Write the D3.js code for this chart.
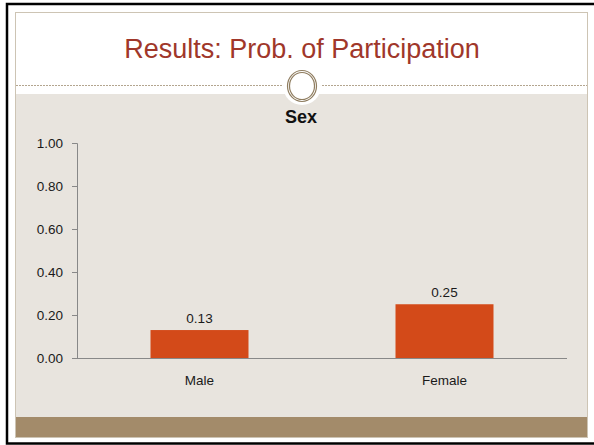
<!DOCTYPE html>
<html>
<head>
<meta charset="utf-8">
<script src="https://cdn.jsdelivr.net/npm/d3@7"></script>
<style>
  html, body { margin: 0; padding: 0; background: #fff; }
  svg { display: block; font-family: Arial, "Liberation Sans", sans-serif; }
</style>
</head>
<body>
<svg id="slide" width="594" height="445"></svg>
<script>
    // Chart data
    const categories = ["Male", "Female"];
    const values = [0.13, 0.25];
    const yTicks = [0, 0.2, 0.4, 0.6, 0.8, 1.0];
    const title = "Results: Prob. of Participation";
    const chartTitle = "Sex";

    const svg = d3.select("#slide");

    // Slide frame and decorations
    svg.append("rect")
        .attr("x", 7).attr("y", 4)
        .attr("width", 600).attr("height", 439.5)
        .attr("fill", "#fff")
        .attr("stroke", "#000")
        .attr("stroke-width", 2.5);

    svg.append("rect")
        .attr("x", 15.5).attr("y", 12.5)
        .attr("width", 572).attr("height", 425)
        .attr("fill", "#fff")
        .attr("stroke", "#cdc4b4");

    svg.append("rect")
        .attr("x", 16).attr("y", 94)
        .attr("width", 571).attr("height", 323)
        .attr("fill", "#e8e4de");

    svg.append("rect")
        .attr("x", 16).attr("y", 417)
        .attr("width", 571).attr("height", 20)
        .attr("fill", "#a38b6a");

    svg.append("line")
        .attr("x1", 16).attr("x2", 587)
        .attr("y1", 85.5).attr("y2", 85.5)
        .attr("stroke", "#b3a58f")
        .attr("stroke-dasharray", "2,1");

    svg.append("circle")
        .attr("cx", 302).attr("cy", 86).attr("r", 19)
        .attr("fill", "#fff");

    svg.append("ellipse")
        .attr("cx", 302).attr("cy", 86).attr("rx", 14.5).attr("ry", 15.5)
        .attr("fill", "#fff")
        .attr("stroke", "#8f7d60")
        .attr("stroke-width", 1.2);

    svg.append("ellipse")
        .attr("cx", 302).attr("cy", 86).attr("rx", 12.5).attr("ry", 13.5)
        .attr("fill", "none")
        .attr("stroke", "#8f7d60")
        .attr("stroke-width", 1.2);

    svg.append("text")
        .attr("x", 302).attr("y", 58)
        .attr("text-anchor", "middle")
        .attr("font-size", 27)
        .attr("fill", "#a0372a")
        .text(title);

    // Chart
    const x = d3.scaleBand()
        .domain(categories)
        .range([77, 567])
        .paddingInner(0.6)
        .paddingOuter(0.3);

    const y = d3.scaleLinear()
        .domain([0, 1])
        .range([358, 143]);

    svg.append("text")
        .attr("x", 301).attr("y", 123)
        .attr("text-anchor", "middle")
        .attr("font-size", 18)
        .attr("font-weight", "bold")
        .attr("fill", "#111")
        .text(chartTitle);

    const yAxis = svg.append("g")
        .attr("transform", "translate(77,0)")
        .call(d3.axisLeft(y)
            .tickValues(yTicks)
            .tickFormat(d3.format(".2f"))
            .tickSizeOuter(0)
            .tickSize(5)
            .tickPadding(9));

    yAxis.select(".domain").attr("stroke", "#888");
    yAxis.selectAll(".tick line").attr("stroke", "#888");
    yAxis.selectAll(".tick text")
        .attr("font-size", 13.5)
        .attr("font-family", "Arial, 'Liberation Sans', sans-serif")
        .attr("fill", "#1a1a1a");

    svg.append("g")
        .selectAll("rect")
        .data(values)
        .join("rect")
        .attr("x", (d, i) => x(categories[i]))
        .attr("y", d => y(d))
        .attr("width", x.bandwidth())
        .attr("height", d => y(0) - y(d))
        .attr("fill", "#d34a19");

    svg.append("line")
        .attr("x1", 77).attr("x2", 567)
        .attr("y1", y(0) + 0.5).attr("y2", y(0) + 0.5)
        .attr("stroke", "#888");

    svg.append("g")
        .selectAll("text")
        .data(values)
        .join("text")
        .attr("x", (d, i) => x(categories[i]) + x.bandwidth() / 2)
        .attr("y", d => y(d) - 7)
        .attr("text-anchor", "middle")
        .attr("font-size", 13.5)
        .attr("fill", "#1a1a1a")
        .text(d => d3.format(".2f")(d));

    svg.append("g")
        .selectAll("text")
        .data(categories)
        .join("text")
        .attr("x", d => x(d) + x.bandwidth() / 2)
        .attr("y", 385)
        .attr("text-anchor", "middle")
        .attr("font-size", 13.5)
        .attr("fill", "#1a1a1a")
        .text(d => d);
</script>
</body>
</html>
